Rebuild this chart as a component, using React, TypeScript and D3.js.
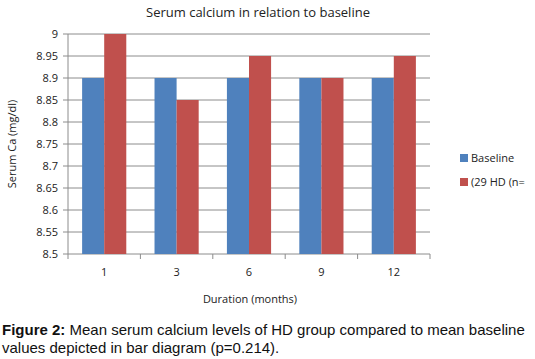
import { scaleBand, scaleLinear, range } from "d3";

const W = 535;
const H = 359;
const M = { top: 34, right: 105, bottom: 105, left: 68 };

const categories = ["1", "3", "6", "9", "12"];
const baseline = [8.9, 8.9, 8.9, 8.9, 8.9];
const hd = [9.0, 8.85, 8.95, 8.9, 8.95];
const seriesNames = ["Baseline", "(29 HD (n="];
const colors = ["#4F81BD", "#C0504D"];
const yTickValues = range(0, 11).map((i) => +(8.5 + i * 0.05).toFixed(2));

const FONT = "'Open Sans', 'DejaVu Sans', sans-serif";
const CAP = "'Liberation Sans', Arial, sans-serif";

export default function App() {
  const x = scaleBand<string>().domain(categories).range([M.left, W - M.right]);
  const y = scaleLinear().domain([8.5, 9]).range([H - M.bottom, M.top]);
  const bw = x.bandwidth() * 0.305;
  const series = [baseline, hd];
  const x0 = M.left;
  const x1 = W - M.right;
  const yBottom = y(8.5);

  return (
    <svg
      width={W}
      height={H}
      viewBox={`0 0 ${W} ${H}`}
      style={{ position: "absolute", left: 0, top: 0, background: "#fff" }}
    >
      <text x={258} y={17} textAnchor="middle" fontFamily={FONT} fontSize={13} fill="#222">
        Serum calcium in relation to baseline
      </text>

      {yTickValues.map((t) => (
        <g key={`y${t}`}>
          <line x1={x0} x2={x1} y1={y(t)} y2={y(t)} stroke="#8c8c8c" strokeWidth={1} />
          <line x1={x0 - 5} x2={x0} y1={y(t)} y2={y(t)} stroke="#8c8c8c" />
          <text
            x={x0 - 10}
            y={y(t)}
            dy="0.35em"
            textAnchor="end"
            fontFamily={FONT}
            fontSize={11}
            fill="#222"
          >
            {String(t)}
          </text>
        </g>
      ))}
      <line x1={x0} x2={x0} y1={y(9)} y2={yBottom} stroke="#8c8c8c" />
      {range(0, categories.length + 1).map((i) => {
        const xx = M.left + i * x.step();
        return <line key={`xt${i}`} x1={xx} x2={xx} y1={yBottom} y2={yBottom + 5} stroke="#8c8c8c" />;
      })}

      {series.map((vals, si) =>
        vals.map((v, ci) => {
          const cx = (x(categories[ci]) ?? 0) + x.bandwidth() / 2;
          const bx = cx - bw + si * bw;
          return (
            <rect
              key={`b${si}-${ci}`}
              x={bx}
              y={y(v)}
              width={bw}
              height={yBottom - y(v)}
              fill={colors[si]}
            />
          );
        })
      )}

      {categories.map((c) => (
        <text
          key={`xl${c}`}
          x={(x(c) ?? 0) + x.bandwidth() / 2}
          y={276}
          textAnchor="middle"
          fontFamily={FONT}
          fontSize={11}
          fill="#222"
        >
          {c}
        </text>
      ))}

      <text
        transform={`translate(16, ${(y(9) + yBottom) / 2}) rotate(-90)`}
        textAnchor="middle"
        fontFamily={FONT}
        fontSize={11}
        fill="#222"
      >
        Serum Ca (mg/dl)
      </text>
      <text x={250} y={303} textAnchor="middle" fontFamily={FONT} fontSize={11} fill="#222">
        Duration (months)
      </text>

      {seriesNames.map((name, i) => (
        <g key={`lg${i}`} transform={`translate(460, ${154 + i * 24})`}>
          <rect x={0} y={0} width={8} height={8} fill={colors[i]} />
          <text x={11} y={4} dy="0.35em" fontFamily={FONT} fontSize={11} fill="#222">
            {name}
          </text>
        </g>
      ))}

      <text x={2} y={335} fontFamily={CAP} fontSize={15} fill="#111">
        <tspan fontWeight="bold">Figure 2:</tspan> Mean serum calcium levels of HD group compared to mean baseline
      </text>
      <text x={2} y={353} fontFamily={CAP} fontSize={15} fill="#111">
        values depicted in bar diagram (p=0.214).
      </text>
    </svg>
  );
}
